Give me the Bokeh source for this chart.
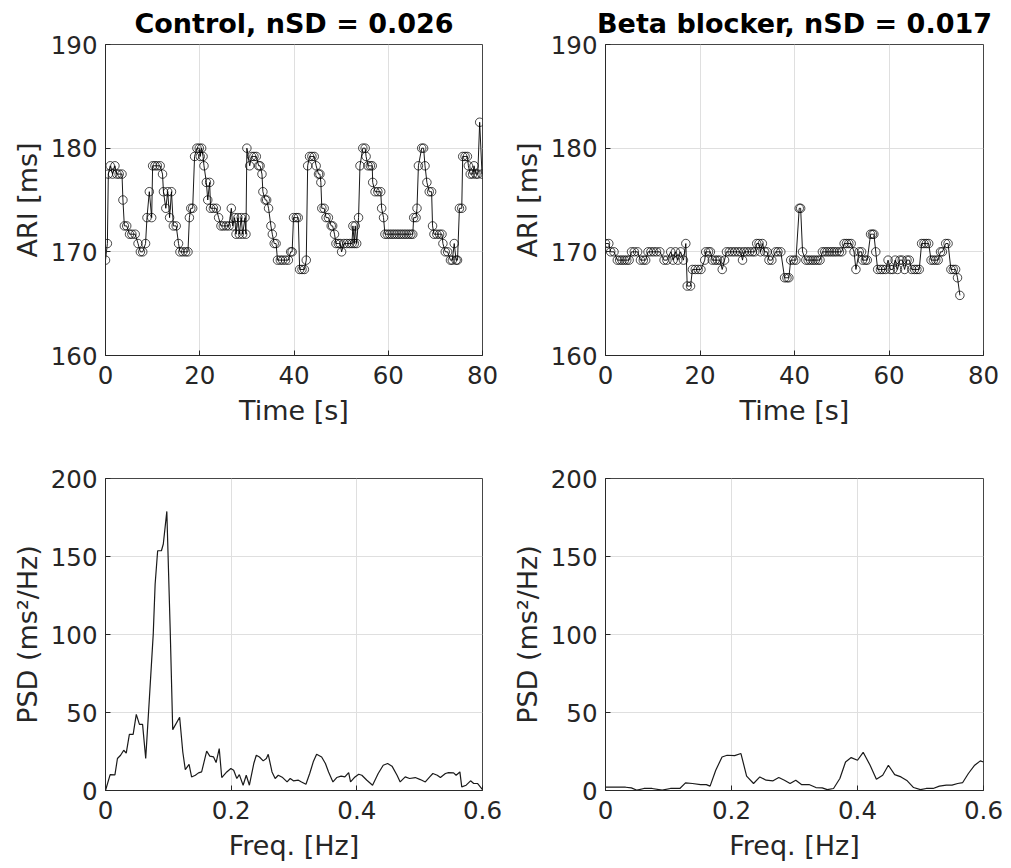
from bokeh.plotting import figure
from bokeh.models import Range1d, FixedTicker
from bokeh.layouts import column, row
from bokeh.embed import file_html
from bokeh.resources import INLINE

# ---------------- data ----------------
titles = ["Control, nSD = 0.026", "Beta blocker, nSD = 0.017"]
time_ticks = [0, 20, 40, 60, 80]
ari_ticks = [160, 170, 180, 190]
freq_ticks = [0, 0.2, 0.4, 0.6]
psd_ticks = [0, 50, 100, 150, 200]

ctrl_t = [0.0, 0.4, 0.6, 1.0, 1.5, 2.0, 2.4, 2.9, 3.5, 3.7, 4.0, 4.5, 5.1, 5.6, 6.3, 6.9, 7.4, 7.9, 8.5, 8.8,
          9.3, 9.8, 10.0, 10.5, 11.0, 11.6, 12.1, 12.3, 12.8, 13.2, 13.6, 14.0, 14.4, 15.0, 15.5, 15.8, 16.4,
          17.0, 17.5, 17.8, 18.1, 18.5, 18.9, 19.4, 19.9, 20.1, 20.4, 20.7, 20.9, 21.4, 21.7, 22.1, 22.3, 22.9,
          23.5, 24.0, 24.5, 25.0, 25.6, 26.2, 26.7, 27.0, 27.4, 27.7, 28.1, 28.4, 28.8, 29.1, 29.6, 29.8, 30.0,
          30.6, 31.0, 31.5, 32.0, 32.5, 32.8, 33.2, 33.4, 33.9, 34.2, 34.6, 35.1, 35.4, 35.8, 36.2, 36.5, 37.1,
          37.6, 38.2, 38.8, 39.3, 39.6, 39.9, 40.5, 40.9, 41.2, 41.7, 42.2, 42.6, 42.9, 43.3, 43.8, 44.3, 44.7,
          45.2, 45.5, 45.7, 45.9, 46.4, 46.8, 47.3, 47.9, 48.2, 48.6, 48.9, 49.4, 49.8, 50.1, 50.6, 51.2, 51.8,
          52.3, 52.5, 52.8, 53.0, 53.3, 53.7, 54.0, 54.6, 55.1, 55.3, 55.7, 56.2, 56.6, 56.7, 57.2, 57.8, 58.4,
          58.6, 59.0, 59.3, 59.8, 60.3, 60.8, 61.3, 61.8, 62.3, 62.8, 63.3, 63.8, 64.3, 64.8, 65.2, 65.4, 65.9,
          66.1, 66.4, 67.1, 67.5, 67.8, 68.2, 68.7, 69.2, 69.4, 69.7, 70.3, 70.9, 71.4, 71.6, 72.1, 72.6, 73.2,
          73.6, 74.0, 74.4, 74.7, 75.1, 75.6, 75.8, 76.3, 76.8, 77.0, 77.4, 77.9, 78.2, 78.6, 79.0, 79.4, 79.9]
ctrl_ari = [169.2, 170.8, 177.5, 178.3, 177.5, 178.3, 177.5, 177.5, 177.5, 175.0, 172.5, 172.5, 171.7, 171.7,
            171.7, 170.8, 170.0, 170.0, 170.8, 173.3, 175.8, 173.3, 178.3, 178.3, 178.3, 178.3, 177.5, 175.8,
            174.2, 175.8, 173.3, 175.8, 172.5, 172.5, 170.8, 170.0, 170.0, 170.0, 170.0, 173.3, 174.2, 174.2,
            179.2, 180.0, 180.0, 179.2, 180.0, 179.2, 178.3, 176.7, 175.0, 176.7, 174.2, 174.2, 174.2, 173.3,
            172.5, 172.5, 172.5, 172.5, 174.2, 172.5, 173.3, 171.7, 173.3, 171.7, 173.3, 171.7, 173.3, 171.7,
            180.0, 178.3, 179.2, 179.2, 179.2, 178.3, 178.3, 177.5, 175.8, 175.0, 175.0, 174.2, 172.5, 171.7,
            170.8, 170.8, 169.2, 169.2, 169.2, 169.2, 169.2, 170.0, 170.0, 173.3, 173.3, 173.3, 168.3, 168.3,
            168.3, 169.2, 178.3, 179.2, 179.2, 179.2, 178.3, 177.5, 177.5, 176.7, 174.2, 174.2, 173.3, 173.3,
            172.5, 172.5, 171.7, 170.8, 170.8, 170.8, 170.0, 170.8, 170.8, 170.8, 170.8, 172.5, 170.8, 172.5,
            170.8, 173.3, 178.3, 180.0, 180.0, 179.2, 178.3, 178.3, 178.3, 176.7, 175.8, 175.8, 175.8, 174.2,
            173.3, 171.7, 171.7, 171.7, 171.7, 171.7, 171.7, 171.7, 171.7, 171.7, 171.7, 171.7, 171.7, 171.7,
            173.3, 173.3, 174.2, 178.3, 180.0, 180.0, 178.3, 176.7, 175.8, 175.8, 172.5, 171.7, 171.7, 171.7,
            171.7, 170.8, 170.0, 170.0, 169.2, 169.2, 170.8, 169.2, 169.2, 174.2, 174.2, 179.2, 179.2, 179.2,
            178.3, 177.5, 177.5, 178.3, 177.5, 177.5, 182.5, 177.5]

beta_t = [0.0, 0.7, 1.1, 1.8, 2.5, 3.0, 3.5, 4.0, 4.5, 5.0, 5.5, 6.1, 6.8, 7.4, 8.0, 8.5, 9.0, 9.6, 10.2, 10.8,
          11.5, 12.4, 13.0, 13.8, 14.3, 14.8, 15.3, 15.9, 16.5, 17.0, 17.3, 18.0, 18.4, 19.0, 19.6, 20.2, 21.0,
          21.2, 21.8, 22.2, 22.6, 23.2, 23.7, 24.2, 24.7, 25.2, 25.6, 26.2, 26.8, 27.4, 28.0, 28.6, 29.0, 29.3,
          29.9, 30.5, 31.1, 31.6, 32.0, 32.5, 32.8, 33.2, 33.7, 34.2, 34.6, 35.2, 36.0, 36.5, 37.1, 37.9, 38.4,
          38.8, 39.2, 39.8, 40.3, 41.0, 41.3, 41.7, 42.4, 42.9, 43.4, 43.9, 44.4, 44.9, 45.4, 45.9, 46.4, 46.9,
          47.4, 47.9, 48.4, 48.9, 49.5, 50.0, 50.5, 51.0, 51.5, 52.0, 52.6, 53.0, 53.7, 54.2, 54.4, 55.0, 55.4,
          56.1, 56.5, 56.8, 57.2, 57.6, 58.2, 58.7, 59.3, 59.8, 60.3, 60.8, 61.3, 61.8, 62.3, 62.8, 63.3, 63.8,
          64.3, 64.8, 65.4, 65.9, 66.4, 66.9, 67.4, 67.9, 68.4, 68.9, 69.4, 69.9, 70.4, 70.9, 71.3, 72.0, 72.5,
          73.1, 73.6, 74.1, 74.5, 75.0]
beta_ari = [170.8, 170.8, 170.0, 170.0, 169.2, 169.2, 169.2, 169.2, 169.2, 169.2, 170.0, 170.0, 170.0, 169.2,
            169.2, 169.2, 170.0, 170.0, 170.0, 170.0, 170.0, 169.2, 169.2, 170.0, 169.2, 170.0, 169.2, 170.0,
            169.2, 170.8, 166.7, 166.7, 168.3, 168.3, 168.3, 168.3, 169.2, 170.0, 170.0, 170.0, 169.2, 169.2,
            169.2, 169.2, 168.3, 169.2, 170.0, 170.0, 170.0, 170.0, 170.0, 170.0, 169.2, 170.0, 170.0, 170.0,
            170.0, 170.0, 170.8, 170.8, 170.0, 170.8, 170.0, 170.0, 169.2, 169.2, 170.0, 170.0, 170.0, 167.5,
            167.5, 167.5, 169.2, 169.2, 169.2, 174.2, 174.2, 170.0, 169.2, 169.2, 169.2, 169.2, 169.2, 169.2,
            169.2, 170.0, 170.0, 170.0, 170.0, 170.0, 170.0, 170.0, 170.0, 170.0, 170.8, 170.8, 170.8, 170.8,
            170.0, 168.3, 170.0, 170.0, 169.2, 169.2, 169.2, 171.7, 171.7, 171.7, 170.0, 168.3, 168.3, 168.3,
            168.3, 169.2, 168.3, 168.3, 169.2, 168.3, 169.2, 169.2, 168.3, 169.2, 169.2, 168.3, 168.3, 168.3,
            168.3, 170.8, 170.8, 170.8, 170.8, 169.2, 169.2, 169.2, 169.2, 170.0, 170.0, 170.8, 170.8, 168.3,
            168.3, 168.3, 167.5, 165.8]

ctrl_f = [0.0, 0.0074, 0.015, 0.019, 0.024, 0.029, 0.033, 0.038, 0.044, 0.049, 0.054, 0.059, 0.064, 0.070,
          0.076, 0.079, 0.083, 0.089, 0.092, 0.0976, 0.103, 0.107, 0.118, 0.123, 0.127, 0.133, 0.137, 0.143,
          0.148, 0.153, 0.161, 0.166, 0.172, 0.176, 0.181, 0.185, 0.193, 0.1995, 0.204, 0.209, 0.213, 0.219,
          0.224, 0.229, 0.236, 0.240, 0.245, 0.251, 0.256, 0.259, 0.265, 0.270, 0.275, 0.282, 0.289, 0.294,
          0.299, 0.307, 0.312, 0.319, 0.325, 0.331, 0.336, 0.344, 0.350, 0.355, 0.362, 0.368, 0.375, 0.381,
          0.387, 0.390, 0.396, 0.403, 0.408, 0.416, 0.425, 0.434, 0.442, 0.449, 0.456, 0.464, 0.469, 0.477,
          0.484, 0.493, 0.501, 0.509, 0.516, 0.521, 0.528, 0.533, 0.541, 0.546, 0.554, 0.558, 0.564, 0.567,
          0.574, 0.581, 0.586, 0.592, 0.600]
ctrl_psd = [0.0, 10.2, 10.0, 20.5, 22.6, 25.8, 24.0, 36.0, 36.0, 48.8, 42.4, 42.4, 20.5, 60.0, 100.4, 132.4,
            153.7, 153.7, 158.0, 178.9, 102.6, 39.0, 47.0, 24.7, 13.4, 16.8, 8.7, 9.8, 11.3, 11.9, 25.2, 22.0,
            21.5, 17.9, 26.9, 8.3, 11.9, 14.1, 13.0, 7.7, 10.2, 3.4, 9.8, 3.4, 17.3, 22.6, 21.5, 19.0, 20.5,
            23.2, 11.9, 7.7, 9.8, 8.3, 5.5, 7.7, 6.2, 6.6, 5.5, 4.0, 10.9, 18.8, 23.2, 21.5, 17.3, 11.9, 5.5,
            8.3, 9.2, 8.7, 11.5, 5.5, 8.3, 10.4, 9.8, 6.6, 3.4, 10.9, 16.2, 17.3, 15.6, 9.8, 5.5, 8.7, 7.7,
            8.3, 7.0, 5.5, 8.7, 10.9, 9.8, 8.3, 10.9, 11.5, 11.3, 9.8, 11.9, 2.3, 3.4, 6.2, 4.5, 4.5, 0.6]

beta_f = [0.0, 0.016, 0.032, 0.041, 0.050, 0.061, 0.074, 0.090, 0.103, 0.118, 0.127, 0.138, 0.151, 0.160,
          0.166, 0.175, 0.185, 0.193, 0.205, 0.215, 0.224, 0.235, 0.245, 0.255, 0.266, 0.275, 0.284, 0.293,
          0.302, 0.311, 0.323, 0.334, 0.344, 0.352, 0.362, 0.372, 0.381, 0.390, 0.400, 0.409, 0.420, 0.430,
          0.440, 0.449, 0.459, 0.469, 0.479, 0.489, 0.500, 0.509, 0.520, 0.530, 0.541, 0.550, 0.559, 0.567,
          0.576, 0.586, 0.595, 0.600]
beta_psd = [2.1, 2.1, 2.1, 1.7, 0.2, 1.3, 1.3, 0.2, 1.3, 1.3, 4.9, 4.5, 3.8, 3.8, 2.8, 13.0, 21.5, 22.6, 22.4,
            23.7, 9.2, 4.5, 8.7, 6.6, 6.2, 8.3, 6.6, 4.5, 6.6, 3.8, 3.8, 1.9, 1.7, 0.6, 1.3, 7.7, 18.3, 21.1,
            19.4, 24.5, 16.2, 7.2, 9.8, 16.2, 10.2, 8.7, 6.2, 1.9, 0.6, 1.3, 1.3, 2.8, 3.4, 3.4, 4.5, 5.1,
            10.9, 16.2, 19.0, 18.3]

# ---------------- styling ----------------
FONT = "DejaVu Sans"
AX = "#262626"
GRID = "#dfdfdf"


def make_fig(width, height, left, right, top, bottom, xr, yr, xticks, yticks, xlabel, ylabel, title=None,
             overrides=None):
    p = figure(width=width, height=height, x_range=Range1d(*xr), y_range=Range1d(*yr),
               output_backend="svg", toolbar_location=None, tools="",
               min_border_left=left, min_border_right=right, min_border_top=top, min_border_bottom=bottom)
    p.background_fill_color = "white"
    p.border_fill_color = "white"
    p.outline_line_color = AX
    p.outline_line_width = 1
    p.outline_line_alpha = 0.85
    for ax, ticks, lab in ((p.xaxis, xticks, xlabel), (p.yaxis, yticks, ylabel)):
        ax.ticker = FixedTicker(ticks=ticks)
        ax.axis_label = lab
        ax.axis_label_text_font = FONT
        ax.axis_label_text_font_size = "27px"
        ax.axis_label_text_font_style = "normal"
        ax.axis_label_text_color = AX
        ax.major_label_text_font = FONT
        ax.major_label_text_font_size = "24.5px"
        ax.major_label_text_color = AX
        ax.axis_line_color = AX
        ax.axis_line_alpha = 0.85
        ax.major_tick_in = 5
        ax.major_tick_out = 0
        ax.major_tick_line_color = AX
        ax.minor_tick_line_color = None
    p.xaxis.major_label_standoff = 10
    p.xaxis.axis_label_standoff = 8
    p.yaxis.major_label_standoff = 8
    p.yaxis.axis_label_standoff = 5
    if overrides:
        p.xaxis.major_label_overrides = overrides
    p.grid.grid_line_color = GRID
    p.grid.grid_line_width = 1
    if title:
        p.title.text = title
        p.title.text_font = FONT
        p.title.text_font_size = "27px"
        p.title.text_font_style = "bold"
        p.title.text_color = "black"
        p.title.align = "center"
        p.title.standoff = 11
    return p


freq_over = {0: "0", 0.2: "0.2", 0.4: "0.4", 0.6: "0.6"}

p1 = make_fig(502, 435, 105, 20, 43, 80, (0, 80), (160, 190), time_ticks, ari_ticks,
              "Time [s]", "ARI [ms]", titles[0])
p2 = make_fig(509, 435, 103, 28, 43, 80, (0, 80), (160, 190), time_ticks, ari_ticks,
              "Time [s]", "ARI [ms]", titles[1])
p3 = make_fig(502, 433, 105, 20, 43, 78, (0, 0.6), (0, 200), freq_ticks, psd_ticks,
              "Freq. [Hz]", "PSD (ms²/Hz)", overrides=freq_over)
p4 = make_fig(509, 433, 103, 28, 43, 78, (0, 0.6), (0, 200), freq_ticks, psd_ticks,
              "Freq. [Hz]", "PSD (ms²/Hz)", overrides=freq_over)

for p, t, v in ((p1, ctrl_t, ctrl_ari), (p2, beta_t, beta_ari)):
    p.line(t, v, line_color="black", line_width=1, line_alpha=0.9)
    p.scatter(t, v, marker="circle", size=8.5, fill_alpha=0, line_color="black", line_width=0.8,
              line_alpha=0.9)

p3.line(ctrl_f, ctrl_psd, line_color="#1a1a1a", line_width=1.2)
p4.line(beta_f, beta_psd, line_color="#1a1a1a", line_width=1.2)

layout = column(row(p1, p2), row(p3, p4))
open("out.html", "w").write(file_html(layout, INLINE))
